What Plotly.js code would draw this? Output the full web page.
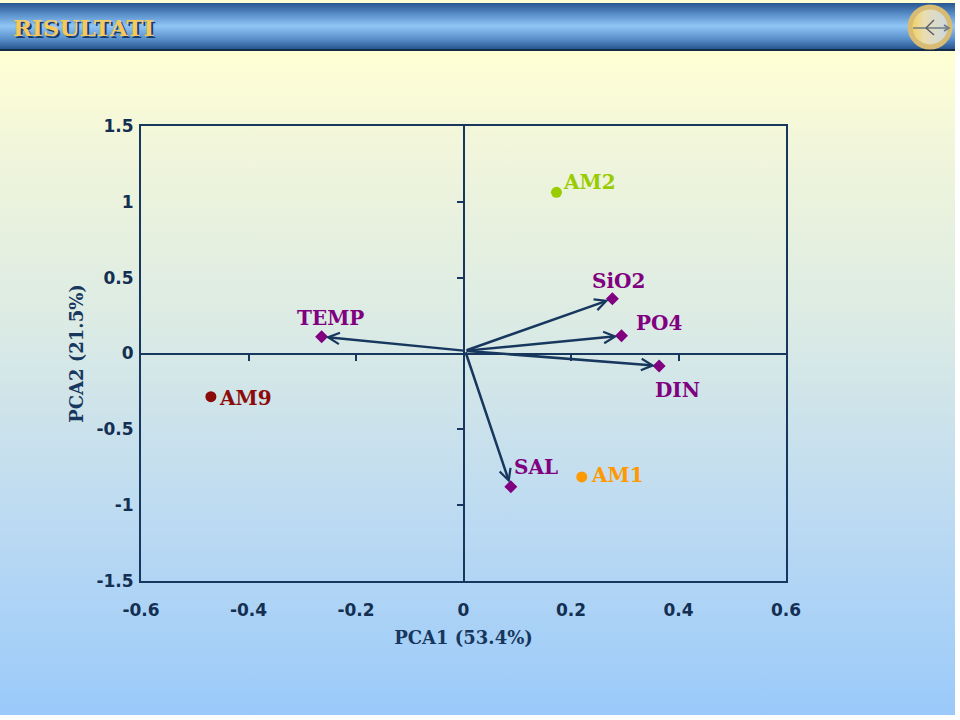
<!DOCTYPE html>
<html><head><meta charset="utf-8">
<script src="https://cdn.plot.ly/plotly-3.0.1.min.js"></script>
<style>
html,body{margin:0;padding:0;background:#ffffff;overflow:hidden;}
#slide{position:absolute;left:0;top:0;width:955px;height:715px;
  background:linear-gradient(to bottom,#FFFFD4 0px,#FFFFD4 55px,#F2F6DA 140px,#DCEBE4 320px,#BCDAF2 520px,#9ACAFA 715px);}
#bar{position:absolute;left:0;top:3px;width:955px;height:46px;
  background:linear-gradient(to bottom,#285690 0%,#5A90CA 25%,#90C6F6 50%,#5A90CA 78%,#285690 100%);
  border-bottom:2px solid #152A45;}
#logo{position:absolute;left:904px;top:2px;width:52px;height:50px;}
#chart{position:absolute;left:0;top:0;width:960px;height:720px;}
</style></head>
<body>
<div id="slide"></div>
<div id="bar"></div>
<svg id="logo" viewBox="0 0 52 50">
  <defs>
    <linearGradient id="lg" x1="0" x2="1" y1="0" y2="0">
      <stop offset="0" stop-color="#F2CF55"/><stop offset="0.35" stop-color="#E9DDB0"/><stop offset="1" stop-color="#C9D8E6"/>
    </linearGradient>
  </defs>
  <circle cx="26" cy="25" r="20" fill="url(#lg)" stroke="#D8BC74" stroke-width="5"/>
  <line x1="9" y1="26" x2="44" y2="26" stroke="#6E7B86" stroke-width="1.6"/>
  <path d="M40 23 L45 26 L40 29" fill="none" stroke="#6E7B86" stroke-width="1.6"/>
  <line x1="22" y1="26" x2="30" y2="18" stroke="#556" stroke-width="1.3"/>
  <line x1="22" y1="26" x2="30" y2="33" stroke="#556" stroke-width="1.3"/>
</svg>
<div id="chart"></div>
<script>
// ---- data ----
const varNames = ['TEMP', 'SiO2', 'PO4', 'DIN', 'SAL'];
const varPC1 = [-0.264, 0.277, 0.294, 0.364, 0.088];
const varPC2 = [0.111, 0.361, 0.117, -0.082, -0.878];
const siteNames = ['AM2', 'AM9', 'AM1'];
const sitePC1 = [0.173, -0.470, 0.220];
const sitePC2 = [1.063, -0.285, -0.814];
const arrowOrigin = [0.003, 0.018];
const xTickVals = [-0.6, -0.4, -0.2, 0, 0.2, 0.4, 0.6];
const xTickText = ['-0.6', '-0.4', '-0.2', '0', '0.2', '0.4', '0.6'];
const yTickVals = [-1.5, -1, -0.5, 0, 0.5, 1, 1.5];
const yTickText = ['-1.5', '-1', '-0.5', '0', '0.5', '1', '1.5'];
const xInnerTicks = [-0.4, -0.2, 0.2, 0.4];
const yInnerTicks = [-1, -0.5, 0.5, 1];
const xTitle = 'PCA1 (53.4%)';
const yTitle = 'PCA2 (21.5%)';
const slideTitle = 'RISULTATI';

// ---- styles ----
const NAVY = '#17375E';
const varColor = '#800080';
const siteColors = ['#99CC00', '#8B0A0A', '#FF9900'];
const varLabelShift = [[9, 19], [6, 18], [37, 13], [18, -24], [25, 20]];
const siteLabelShift = [[33, 10], [35, -1], [36, 2]];
const labelFont = {family: 'DejaVu Serif, serif', size: 20, weight: 'bold'};

const traces = [
  {type: 'scatter', mode: 'markers', x: [], y: [], xaxis: 'x2', yaxis: 'y2',
   hoverinfo: 'skip', showlegend: false},
  {type: 'scatter', mode: 'markers', x: varPC1, y: varPC2, hoverinfo: 'text', text: varNames,
   marker: {symbol: 'diamond', size: 10, color: varColor}, showlegend: false, cliponaxis: false},
  {type: 'scatter', mode: 'markers', x: sitePC1, y: sitePC2, hoverinfo: 'text', text: siteNames,
   marker: {symbol: 'circle', size: 11, color: siteColors}, showlegend: false, cliponaxis: false}
];

const annotations = [];
varNames.forEach((n, i) => {
  annotations.push({x: varPC1[i], y: varPC2[i], ax: arrowOrigin[0], ay: arrowOrigin[1],
    xref: 'x', yref: 'y', axref: 'x', ayref: 'y', text: '', showarrow: true,
    arrowhead: 5, arrowsize: 0.9, arrowwidth: 2.5, arrowcolor: NAVY, standoff: 4});
});
varNames.forEach((n, i) => {
  annotations.push({x: varPC1[i], y: varPC2[i], xref: 'x', yref: 'y', text: n, showarrow: false,
    xshift: varLabelShift[i][0], yshift: varLabelShift[i][1],
    font: Object.assign({color: varColor}, labelFont)});
});
siteNames.forEach((n, i) => {
  annotations.push({x: sitePC1[i], y: sitePC2[i], xref: 'x', yref: 'y', text: n, showarrow: false,
    xshift: siteLabelShift[i][0], yshift: siteLabelShift[i][1],
    font: Object.assign({color: siteColors[i]}, labelFont)});
});
annotations.push({xref: 'paper', yref: 'paper', x: (11 - 141) / 645, y: (581 - 27) / 455,
  xanchor: 'left', yanchor: 'middle', showarrow: false, text: slideTitle,
  font: {family: 'DejaVu Serif, serif', size: 23, weight: 'bold', color: '#F6C95C',
         shadow: '2px 2px 0px #173C6E'}});

const tickFont = {family: 'DejaVu Sans, sans-serif', size: 17, weight: 'bold', color: '#132F52'};
const titleFont = {family: 'DejaVu Serif, serif', size: 18, weight: 'bold', color: NAVY};

const layout = {
  width: 960, height: 720,
  margin: {l: 141, r: 174, t: 126, b: 139, pad: 0},
  paper_bgcolor: 'rgba(0,0,0,0)', plot_bgcolor: 'rgba(0,0,0,0)',
  showlegend: false,
  xaxis: {range: [-0.6, 0.6], tickvals: xTickVals, ticktext: xTickText, tickfont: tickFont,
    showgrid: false, zeroline: false, showline: true, mirror: true, linecolor: NAVY, linewidth: 2,
    ticks: '', ticklabelstandoff: 13, fixedrange: true,
    title: {text: xTitle, font: titleFont, standoff: 12}},
  yaxis: {range: [-1.5, 1.5], tickvals: yTickVals, ticktext: yTickText, tickfont: tickFont,
    showgrid: false, zeroline: false, showline: true, mirror: true, linecolor: NAVY, linewidth: 2,
    ticks: '', ticklabelstandoff: 2, fixedrange: true,
    title: {text: yTitle, font: titleFont, standoff: 8}},
  xaxis2: {overlaying: 'x', anchor: 'free', position: 0.5, side: 'bottom', range: [-0.6, 0.6],
    tickvals: xInnerTicks, showticklabels: false, ticks: 'outside', ticklen: 6, tickwidth: 2,
    tickcolor: NAVY, showline: true, linecolor: NAVY, linewidth: 2, showgrid: false, zeroline: false,
    fixedrange: true},
  yaxis2: {overlaying: 'y', anchor: 'free', position: 0.5, side: 'left', range: [-1.5, 1.5],
    tickvals: yInnerTicks, showticklabels: false, ticks: 'outside', ticklen: 6, tickwidth: 2,
    tickcolor: NAVY, showline: true, linecolor: NAVY, linewidth: 2, showgrid: false, zeroline: false,
    fixedrange: true},
  annotations: annotations
};

Plotly.newPlot('chart', traces, layout, {displayModeBar: false, staticPlot: true});
</script>
</body></html>
